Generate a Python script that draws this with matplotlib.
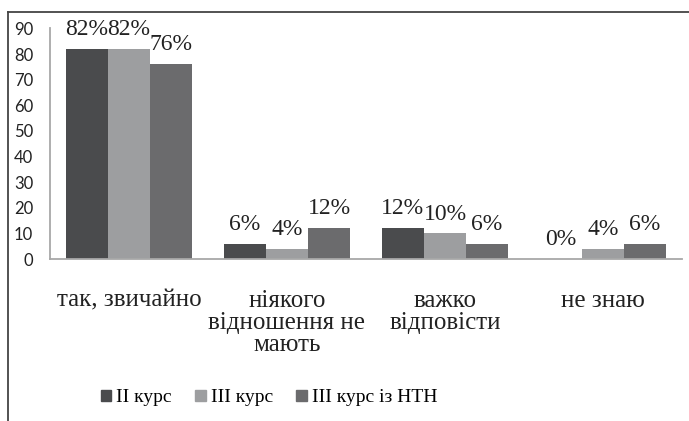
import matplotlib.pyplot as plt
import numpy as np
from matplotlib.patches import Rectangle
from matplotlib.lines import Line2D

categories = ["так, звичайно", "ніякого\nвідношення не\nмають", "важко\nвідповісти", "не знаю"]
series_names = ["II курс", "III курс", "III курс із НТН"]
ii_kurs = [82, 6, 12, 0]
iii_kurs = [82, 4, 10, 4]
iii_ntn = [76, 12, 6, 6]
yticks = list(range(0, 100, 10))

colors = ["#4a4b4d", "#9d9ea0", "#6b6b6d"]
serif = ["Liberation Serif"]
sans = ["Lato"]

W, H = 689, 421
fig = plt.figure(figsize=(W / 100, H / 100), dpi=100)

# frame around the chart (cropped on the right and bottom)
fig.add_artist(Line2D([7.5 / W, 7.5 / W], [0, 1 - 11.5 / H], color="#444444", lw=1.3))
fig.add_artist(Line2D([7.5 / W, 1], [1 - 11.5 / H, 1 - 11.5 / H], color="#444444", lw=1.3))

ax = fig.add_axes([50 / W, (H - 259) / H, 632 / W, (259 - 28.5) / H])

x = np.arange(len(categories))
w = 0.266
data = [ii_kurs, iii_kurs, iii_ntn]
for i, vals in enumerate(data):
    bars = ax.bar(x + (i - 1) * w, vals, w, color=colors[i], label=series_names[i])
    for b, v in zip(bars, vals):
        ax.annotate(f"{v}%", (b.get_x() + b.get_width() / 2, v), xytext=(0, 10),
                    textcoords="offset points", ha="center", va="baseline",
                    fontsize=17, family=serif, color="#222222")

ax.set_xlim(-0.5, 3.5)
ax.set_ylim(0, 90)
ax.set_yticks(yticks)
ax.set_yticklabels([str(t) for t in yticks], fontsize=12, family=sans, color="#222222")
ax.set_xticks(x)
ax.set_xticklabels(categories, fontsize=18, family=serif, color="#222222", linespacing=1.0)
ax.tick_params(length=0)
ax.tick_params(axis="y", pad=12)
ax.tick_params(axis="x", pad=22)
for s in ["top", "right"]:
    ax.spines[s].set_visible(False)
ax.spines["left"].set_color("#a8a8a8")
ax.spines["bottom"].set_color("#a8a8a8")
ax.spines["left"].set_linewidth(1.3)
ax.spines["bottom"].set_linewidth(1.3)

handles = [Rectangle((0, 0), 1, 1, color=c) for c in colors]
fig.legend(handles, series_names, loc="center", bbox_to_anchor=(269 / W, 1 - 398 / H),
           ncol=3, frameon=False, prop={"family": serif, "size": 14},
           handlelength=0.55, handleheight=0.55, handletextpad=0.25, columnspacing=1.2)

fig.savefig("out.png", dpi=100)
